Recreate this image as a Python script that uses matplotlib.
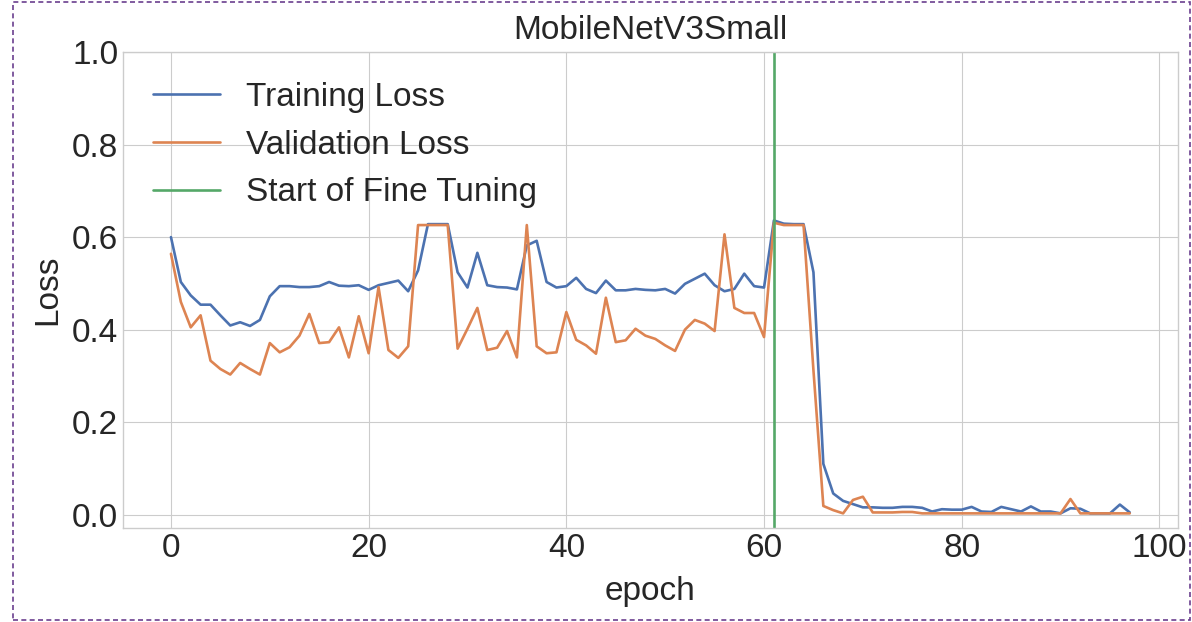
import matplotlib
matplotlib.use("Agg")
import matplotlib.pyplot as plt
import numpy as np

# values, epochs 0..97
train_loss = [0.600, 0.503, 0.474, 0.454, 0.454, 0.431, 0.409, 0.416, 0.408, 0.421,
              0.472, 0.494, 0.494, 0.492, 0.492, 0.494, 0.503, 0.495, 0.494, 0.496,
              0.486, 0.496, 0.501, 0.506, 0.483, 0.528, 0.628, 0.628, 0.628, 0.524,
              0.491, 0.566, 0.496, 0.492, 0.491, 0.487, 0.582, 0.592, 0.503, 0.491,
              0.494, 0.512, 0.488, 0.479, 0.506, 0.485, 0.485, 0.488, 0.486, 0.485,
              0.488, 0.478, 0.499, 0.510, 0.521, 0.496, 0.483, 0.488, 0.521, 0.494,
              0.491, 0.636, 0.629, 0.628, 0.628, 0.524, 0.110, 0.046, 0.030, 0.023,
              0.016, 0.016, 0.015, 0.015, 0.017, 0.017, 0.015, 0.007, 0.012, 0.011,
              0.011, 0.017, 0.007, 0.006, 0.017, 0.012, 0.007, 0.018, 0.007, 0.007,
              0.003, 0.014, 0.013, 0.003, 0.003, 0.003, 0.022, 0.005]
val_loss = [0.564, 0.460, 0.405, 0.431, 0.333, 0.315, 0.303, 0.328, 0.315, 0.303,
            0.371, 0.351, 0.362, 0.387, 0.434, 0.371, 0.373, 0.405, 0.340, 0.429,
            0.349, 0.492, 0.356, 0.339, 0.364, 0.626, 0.626, 0.626, 0.626, 0.359,
            0.402, 0.447, 0.356, 0.361, 0.397, 0.340, 0.626, 0.364, 0.349, 0.351,
            0.438, 0.378, 0.366, 0.348, 0.469, 0.373, 0.377, 0.402, 0.387, 0.380,
            0.366, 0.354, 0.400, 0.421, 0.413, 0.397, 0.606, 0.447, 0.436, 0.436,
            0.384, 0.631, 0.626, 0.626, 0.626, 0.312, 0.019, 0.010, 0.003, 0.032,
            0.039, 0.005, 0.005, 0.005, 0.006, 0.006, 0.003, 0.003, 0.003, 0.003,
            0.003, 0.003, 0.003, 0.003, 0.003, 0.003, 0.003, 0.003, 0.003, 0.003,
            0.003, 0.034, 0.003, 0.003, 0.003, 0.003, 0.003, 0.003]
epochs = np.arange(len(train_loss))
fine_tune_epoch = 61

plt.style.use("seaborn-v0_8-whitegrid")
plt.rcParams["font.family"] = ["Liberation Sans", "DejaVu Sans"]
plt.rcParams["font.size"] = 24

fig = plt.figure(figsize=(11.92, 6.22), dpi=100)
ax = fig.add_axes([0.1032, 0.1511, 0.8848, 0.7653])

ax.plot(epochs, train_loss, color="#4C72B0", linewidth=1.9, label="Training Loss")
ax.plot(epochs, val_loss, color="#DD8452", linewidth=1.9, label="Validation Loss")
ax.axvline(fine_tune_epoch, color="#55A868", linewidth=1.9, label="Start of Fine Tuning")

ax.set_ylim(top=1.0)
ax.set_title("MobileNetV3Small", fontsize=24, color="0.15", pad=9)
ax.set_xlabel("epoch", fontsize=24, color="0.15", labelpad=9)
ax.set_ylabel("Loss", fontsize=24, color="0.15", labelpad=6)
ax.tick_params(labelsize=24, colors="0.15")
ax.legend(loc="upper left", frameon=False, fontsize=24)

# dashed frame of the screenshot
fig.patches.append(plt.Rectangle((0.011, 0.003), 0.987, 0.994, transform=fig.transFigure,
                                 fill=False, edgecolor="#6B3F8F", linestyle=(0, (3, 2)),
                                 linewidth=1.2))

fig.savefig("out.png", dpi=100)
